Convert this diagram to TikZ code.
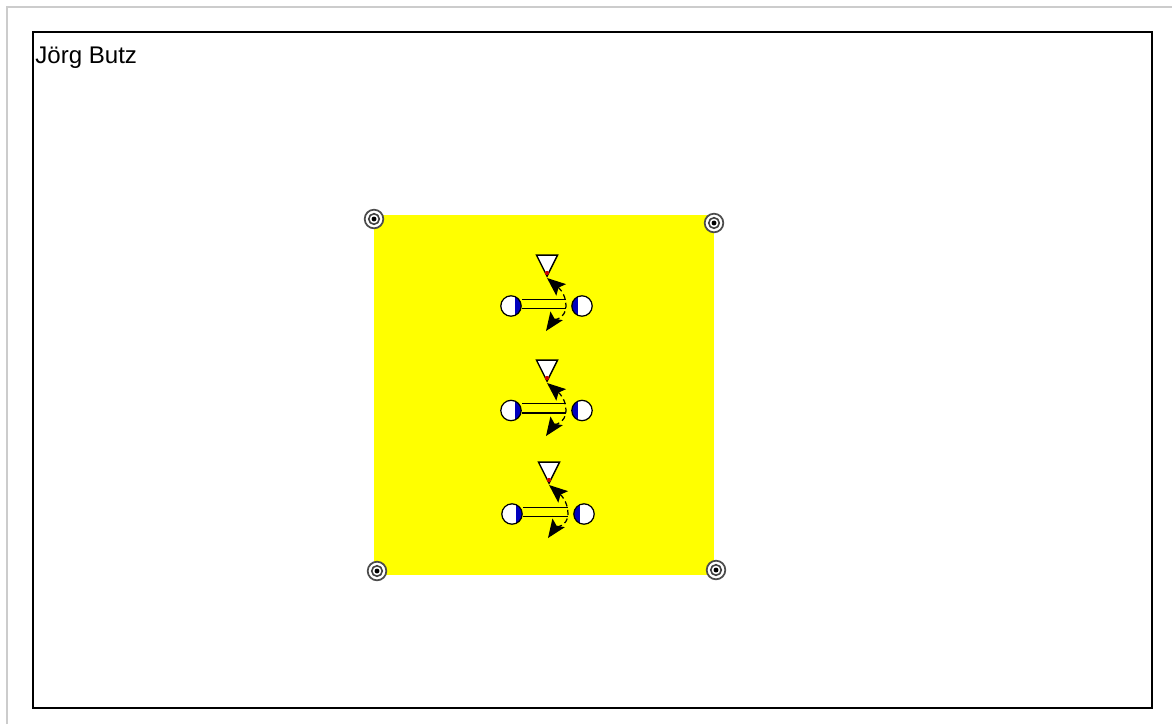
\documentclass[tikz,border=0pt]{standalone}
\usepackage{fontspec}
\setmainfont{Liberation Sans}
\usetikzlibrary{shapes.geometric, arrows.meta}

\definecolor{areayellow}{RGB}{255,255,0}
\definecolor{portblue}{RGB}{0,0,190}

\tikzset{
    placedot/.style={circle, draw=black, fill=white, line width=0.7pt, minimum size=11.6pt, inner sep=0pt},
    portleft/.style={placedot, path picture={\fill[portblue] ([xshift=-3.4pt]path picture bounding box.north east) rectangle (path picture bounding box.south east);}},
    portright/.style={placedot, path picture={\fill[portblue] (path picture bounding box.north west) rectangle ([xshift=3.4pt]path picture bounding box.south west);}},
    wedge/.style={isosceles triangle, isosceles triangle stretches, shape border rotate=-90, draw=black, fill=white, line width=0.8pt, minimum width=12pt, minimum height=12pt, inner sep=0pt, anchor=apex},
    cornermark/.style={circle, draw=black!70, fill=white, line width=1pt, minimum size=10.6pt, inner sep=0pt},
    headtip/.tip={Stealth[length=10.5pt,width=8.5pt,inset=2pt]},
}

\begin{document}
\begin{tikzpicture}[x=0.02cm, y=-0.02cm]
    \useasboundingbox (0,0) rectangle (1172,724);

    % Frames
    \draw[black!20, line width=1pt] (7,724) -- (7,7) -- (1172,7);
    \draw[black, line width=0.8pt] (33,32) rectangle (1152,708);
    \node[anchor=north west, inner sep=0pt, font=\fontsize{13.7}{16}\selectfont] (author) at (35,47) {Jörg Butz};

    % Yellow area
    \fill[areayellow] (374,215) rectangle (714,575);

    % Corners
    \foreach \name/\x/\y in {tl/374/219, tr/714/223, bl/377/571, br/716/570} {
        \node[cornermark] (\name) at (\x,\y) {};
        \node[circle, draw=black!75, line width=0.9pt, minimum size=6pt, inner sep=0pt] (\name ring) at (\x,\y) {};
        \node[circle, fill=black, minimum size=2.8pt, inner sep=0pt] (\name dot) at (\x,\y) {};
    }

    % Three units
    \foreach \name/\x/\y/\yc/\xl/\xr in {a/547/278/306/511/582, b/547/383/410.5/511/582, c/549/485/514/512/584} {
        \node[wedge] (\name top) at (\x,\y) {};
        \node[circle, fill=red!80!black, minimum size=2.4pt, inner sep=0pt] (\name mark) at (\x,\y-5) {};
        \node[portleft] (\name left) at (\xl,\yc) {};
        \node[portright] (\name right) at (\xr,\yc) {};
        \coordinate (\name end) at (\xr-16,\yc);
        \coordinate (\name down) at (\x-1,\y+53);

        \draw[double=areayellow, double distance=4.6pt, line width=0.7pt] ([yshift=1.2pt]\name left.east) -- ([yshift=1.2pt]\name end);
        \draw[{headtip}-{headtip}, densely dashed, line width=0.7pt] (\name top.apex) to[out=-40,in=90] (\name end) to[out=-90,in=55] (\name down);
    }
\end{tikzpicture}
\end{document}
